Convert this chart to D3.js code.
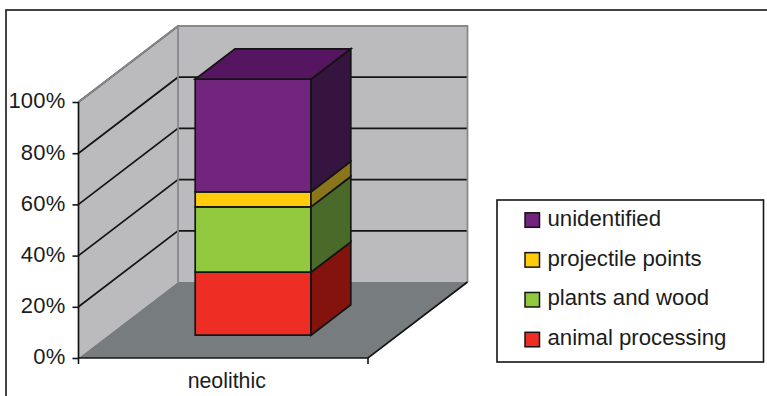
<!DOCTYPE html>
<html>
<head>
<meta charset="utf-8">
<script src="https://cdn.jsdelivr.net/npm/d3@7"></script>
<style>
html,body{margin:0;padding:0;background:#fff;}
svg{display:block;}
text{font-family:"Liberation Sans",Arial,sans-serif;fill:#1c1c1c;}
</style>
</head>
<body>
<svg id="chart" width="767" height="396"></svg>
<script>
// Chart data: stacked shares for a single period
const categories = ["neolithic"];
const seriesNames = ["animal processing", "plants and wood", "projectile points", "unidentified"];
const seriesValues = [24.6, 25.5, 5.9, 44.0];
const frontColors = ["#ee2d24", "#92c83e", "#ffcb0a", "#72257d"];
const sideColors = ["#84130e", "#4a6a2a", "#8a741c", "#35143f"];
const topColors = ["#84130e", "#4a6a2a", "#8a741c", "#551560"];
const yTicks = [0, 20, 40, 60, 80, 100];

const svg = d3.select("#chart");
const ink = "#141414";

// Value and category scales on the front plane of the box
const y = d3.scaleLinear().domain([0, 100]).range([358, 102]);
const x = d3.scaleBand().domain(categories).range([78.5, 368]).paddingInner(0).paddingOuter(0.75);
// Oblique projection: depth 0 is the front plane, depth 1 the back wall
const depthX = d3.scaleLinear().domain([0, 1]).range([0, 99.5]);
const depthY = d3.scaleLinear().domain([0, 1]).range([0, -76]);
const project = (px, v, d) => [px + depthX(d), y(v) + depthY(d)];
const [x0, x1] = x.range();
const poly = pts => "M" + pts.map(p => p.join(",")).join("L") + "Z";
const line = pts => "M" + pts.map(p => p.join(",")).join("L");

// Outer frame
svg.append("rect").attr("x", 6).attr("y", 10).attr("width", 790).attr("height", 420)
  .attr("fill", "#fff").attr("stroke", ink).attr("stroke-width", 1.6);

// Walls and floor
const wallFill = "#bbbbbd", wallEdge = "#868a8c", floorFill = "#777c7f";
svg.append("path").attr("fill", wallFill).attr("stroke", "none")
  .attr("d", poly([project(x0, 0, 1), project(x1, 0, 1), project(x1, 100, 1), project(x0, 100, 1)]));
svg.append("path").attr("fill", wallFill).attr("stroke", "none")
  .attr("d", poly([project(x0, 0, 0), project(x0, 0, 1), project(x0, 100, 1), project(x0, 100, 0)]));
svg.append("path").attr("fill", floorFill).attr("stroke", "none")
  .attr("d", poly([project(x0, 0, 0), project(x1, 0, 0), project(x1, 0, 1), project(x0, 0, 1)]));

// Gridlines running along the side wall and across the back wall
svg.append("g").selectAll("path").data(yTicks.filter(t => t > 0)).join("path")
  .attr("fill", "none").attr("stroke", ink).attr("stroke-width", 1.7)
  .attr("d", t => line([project(x0, t, 0), project(x0, t, 1), project(x1, t, 1)]));

// Lighter wall outlines sit over the gridline corners
svg.append("path").attr("fill", "none").attr("stroke", wallEdge).attr("stroke-width", 1.8)
  .attr("d", line([project(x0, 100, 0), project(x0, 100, 1), project(x1, 100, 1), project(x1, 0, 1)]));
svg.append("path").attr("fill", "none").attr("stroke", wallEdge).attr("stroke-width", 1.8)
  .attr("d", line([project(x0, 100, 1), project(x0, 0, 1)]));

// Floor edges and axes
svg.append("path").attr("fill", "none").attr("stroke", ink).attr("stroke-width", 1.7)
  .attr("d", line([project(x0, 100, 0), project(x0, 0, 0), project(x1, 0, 0), project(x1, 0, 1)]));

const axisY = d3.axisLeft(y).tickValues(yTicks).tickFormat(d => d + "%").tickSize(6).tickSizeOuter(0);
const gy = svg.append("g").attr("transform", `translate(${x0},0)`).call(axisY);
gy.select(".domain").remove();
gy.selectAll("line").attr("stroke", ink).attr("stroke-width", 1.6);
gy.selectAll("text").attr("font-size", 22).attr("x", -13).attr("dy", "0.27em").attr("fill", "#1c1c1c")
  .style("letter-spacing", "0.2px")
  .style("font-family", '"Liberation Sans",Arial,sans-serif');

// Category axis ticks at both ends of the front edge
svg.append("g").selectAll("line").data([x0, x1]).join("line")
  .attr("x1", d => d).attr("x2", d => d).attr("y1", y(0)).attr("y2", y(0) + 6)
  .attr("stroke", ink).attr("stroke-width", 1.6);
svg.append("g").selectAll("text").data(categories).join("text")
  .attr("x", d => x(d) + x.bandwidth() / 2 + 3.5).attr("y", 388).attr("text-anchor", "middle")
  .attr("font-size", 21.3).text(d => d);

// Stacked bar drawn as oblique boxes, lowest segment first
const stack = d3.stack().keys(seriesNames.map((_, i) => i))([seriesValues]);
const d0 = 0.3, d1 = 0.7;
const barG = svg.append("g").attr("stroke", ink).attr("stroke-width", 1.7).attr("stroke-linejoin", "miter");
categories.forEach(cat => {
  const bl = x(cat), br = x(cat) + x.bandwidth();
  stack.forEach((layer, i) => {
    const [v0, v1] = layer[0];
    barG.append("path").attr("fill", frontColors[i])
      .attr("d", poly([project(bl, v0, d0), project(br, v0, d0), project(br, v1, d0), project(bl, v1, d0)]));
    barG.append("path").attr("fill", sideColors[i])
      .attr("d", poly([project(br, v0, d0), project(br, v0, d1), project(br, v1, d1), project(br, v1, d0)]));
    if (i === stack.length - 1) {
      barG.append("path").attr("fill", topColors[i])
        .attr("d", poly([project(bl, v1, d0), project(br, v1, d0), project(br, v1, d1), project(bl, v1, d1)]));
    }
  });
});

// Legend, listed top segment first
svg.append("rect").attr("x", 497).attr("y", 200).attr("width", 266.5).attr("height", 162)
  .attr("fill", "#fff").attr("stroke", ink).attr("stroke-width", 1.6);
const legendOrder = d3.range(seriesNames.length).reverse();
const legendY = d3.scalePoint().domain(legendOrder).range([220, 339.5]);
const items = svg.append("g").selectAll("g").data(legendOrder).join("g")
  .attr("transform", d => `translate(0,${legendY(d)})`);
items.append("rect").attr("x", 525).attr("y", -7.2).attr("width", 14.5).attr("height", 14.5)
  .attr("fill", d => frontColors[d]).attr("stroke", ink).attr("stroke-width", 1.5);
items.append("text").attr("x", 547.5).attr("y", 5.8).attr("font-size", 22.2)
  .text(d => seriesNames[d]);
</script>
</body>
</html>
